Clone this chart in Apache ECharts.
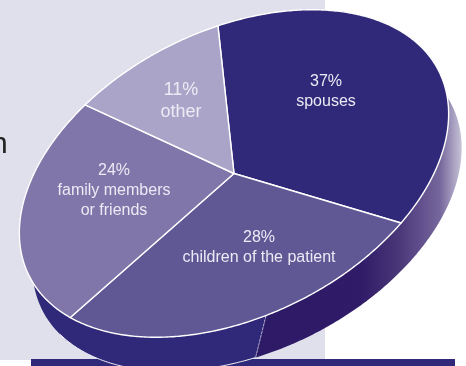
<!DOCTYPE html>
<html>
<head>
<meta charset="utf-8">
<style>html,body{margin:0;padding:0;background:#fff}#chart{width:466px;height:366px}</style>
<script src="https://cdn.jsdelivr.net/npm/echarts@6/dist/echarts.min.js"></script>
</head>
<body>
<div id="chart"></div>
<script>
// Who the caregivers are, as shares of all respondents.
const shares = [37, 28, 24, 11];
const captions = ['spouses', 'children of the patient', 'family members\nor friends', 'other'];
const sliceColors = ['#302979', '#605795', '#8076aa', '#aaa5c8'];
const labelSizes = [16, 16, 16, 18];

// Tilted disc geometry.
const disc = { cx: 234, cy: 173.5, a: 229, b: 143, tilt: -26.5 * Math.PI / 180, start: -77 * Math.PI / 180 };
const depth = { dx: 13, dy: 34 };
const labelAnchors = [[326, 92], [259, 248], [114, 191], [181, 101]];
// Rim bands run along the disc parameter, in degrees, on the upper and lower edge.
const rimBands = [
  { top: [98.7, 230], low: [105, 230], fill: '#302979' },
  { top: [-60, 98.7], low: [-60, 105], fill: null }
];

function rimPoint(t, dx, dy) {
  const x = disc.a * Math.cos(t), y = disc.b * Math.sin(t);
  const c = Math.cos(disc.tilt), s = Math.sin(disc.tilt);
  return [disc.cx + x * c - y * s + (dx || 0), disc.cy + x * s + y * c + (dy || 0)];
}
function arcPoints(t0, t1, dx, dy) {
  const n = Math.max(2, Math.ceil(Math.abs(t1 - t0) / 0.01));
  const out = [];
  for (let i = 0; i <= n; i++) out.push(rimPoint(t0 + (t1 - t0) * i / n, dx, dy));
  return out;
}
const rad = d => d * Math.PI / 180;

const total = shares.reduce((p, v) => p + v, 0);
const rimShade = new echarts.graphic.LinearGradient(255, 0, 462, 0, [
  { offset: 0, color: '#2d1a66' },
  { offset: 0.51, color: '#2f1b67' },
  { offset: 0.7, color: '#4a3878' },
  { offset: 0.77, color: '#5a4887' },
  { offset: 0.894, color: '#75679c' },
  { offset: 1, color: '#c8c4d8' }
], true);

function renderRim(params) {
  const band = rimBands[params.dataIndex];
  const pts = arcPoints(rad(band.top[0]), rad(band.top[1]))
    .concat(arcPoints(rad(band.low[1]), rad(band.low[0]), depth.dx, depth.dy));
  const children = [{
    type: 'polygon',
    shape: { points: pts },
    style: { fill: band.fill || rimShade, stroke: 'none' }
  }];
  if (band.fill) {
    // Thin light edge along the solid band and at its seam with the shaded band.
    children.push({
      type: 'polyline',
      shape: { points: arcPoints(rad(band.low[0]), rad(168), depth.dx, depth.dy) },
      style: { fill: 'none', stroke: '#f2f1f8', lineWidth: 1 }
    });
    children.push({
      type: 'polyline',
      z2: 5,
      shape: { points: [rimPoint(rad(band.top[0])), rimPoint(rad(band.low[0]), depth.dx, depth.dy)] },
      style: { fill: 'none', stroke: '#c9c5e0', lineWidth: 0.8, lineDash: [3, 1] }
    });
  }
  return { type: 'group', children };
}

function renderSlice(params, api) {
  const i = params.dataIndex;
  let before = 0;
  for (let k = 0; k < i; k++) before += shares[k];
  const t0 = disc.start + before / total * Math.PI * 2;
  const t1 = t0 + api.value(0) / total * Math.PI * 2;
  const pts = [[disc.cx, disc.cy]].concat(arcPoints(t0, t1));
  const anchor = labelAnchors[i];
  return {
    type: 'group',
    children: [
      {
        type: 'polygon',
        shape: { points: pts },
        style: { fill: sliceColors[i], stroke: '#ffffff', lineWidth: 1.4, lineJoin: 'round' }
      },
      {
        type: 'text',
        z2: 10,
        style: {
          x: anchor[0], y: anchor[1],
          text: api.value(0) + '%\n' + captions[i],
          fill: '#eceaf4',
          font: labelSizes[i] + 'px "Liberation Sans", Arial, sans-serif',
          lineHeight: labelSizes[i] + 4,
          align: 'center',
          verticalAlign: 'middle'
        }
      }
    ]
  };
}

const chart = echarts.init(document.getElementById('chart'), null, { renderer: 'canvas' });
chart.setOption({
  animation: false,
  graphic: [
    { type: 'rect', z: -10, shape: { x: 0, y: 0, width: 325, height: 360 }, style: { fill: '#e0dfec' } },
    { type: 'rect', z: -9, shape: { x: 31, y: 359, width: 424, height: 7 }, style: { fill: '#302979' } },
    { type: 'text', z: -8, style: { x: -9, y: 160, text: 'n', fill: '#222222', font: '30px "Liberation Sans", Arial, sans-serif', verticalAlign: 'bottom' } }
  ],
  series: [
    { type: 'custom', coordinateSystem: 'none', z: 1, silent: true, renderItem: renderRim, data: rimBands.map(b => b.top) },
    { type: 'custom', coordinateSystem: 'none', z: 2, silent: true, renderItem: renderSlice, data: shares.map(v => [v]) }
  ]
});
</script>
</body>
</html>
